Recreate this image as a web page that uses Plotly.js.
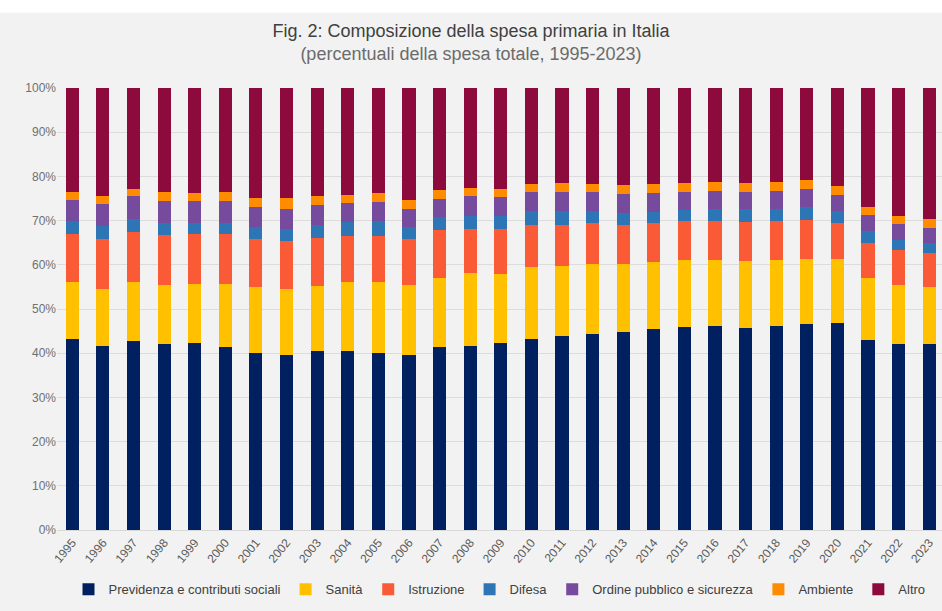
<!DOCTYPE html>
<html>
<head>
<meta charset="utf-8">
<script src="https://cdn.plot.ly/plotly-3.0.1.min.js"></script>
<style>
  html, body { margin: 0; padding: 0; background: #ffffff; }
  #chart { width: 942px; height: 611px; }
</style>
</head>
<body>
<div id="chart"></div>
<script>
var anni = ['1995','1996','1997','1998','1999','2000','2001','2002','2003','2004',
            '2005','2006','2007','2008','2009','2010','2011','2012','2013','2014',
            '2015','2016','2017','2018','2019','2020','2021','2022','2023'];

// quote in % della spesa primaria totale
var previdenza = [43.3,41.7,42.8,42.1,42.3,41.5,40.0,39.5,40.5,40.6,
                  40.1,39.7,41.4,41.7,42.3,43.2,43.9,44.4,44.9,45.4,
                  46.0,46.2,45.7,46.2,46.6,46.9,42.9,42.1,42.0];
var sanita     = [12.7,12.8,13.3,13.3,13.4,14.2,14.9,15.0,14.7,15.5,
                  16.0,15.8,15.6,16.4,15.7,16.3,15.9,15.8,15.3,15.3,
                  15.1,14.9,15.1,14.9,14.8,14.5,14.2,13.3,12.9];
var istruzione = [10.9,11.3,11.4,11.3,11.2,11.2,10.9,10.9,10.9,10.5,
                  10.5,10.3,10.8,10.0,10.0, 9.6, 9.3, 9.2, 8.9, 8.7,
                   8.7, 8.7, 8.8, 8.9, 8.8, 8.0, 7.9, 8.0, 7.7];
var difesa     = [ 3.0, 3.0, 2.9, 2.8, 2.6, 2.6, 2.7, 2.7, 2.8, 3.1,
                   3.3, 2.7, 3.0, 3.0, 3.1, 3.1, 3.1, 2.7, 2.6, 2.6,
                   2.6, 2.9, 3.0, 2.6, 2.9, 2.7, 2.6, 2.3, 2.4];
var ordine     = [ 4.7, 4.9, 5.1, 4.9, 4.9, 4.9, 4.5, 4.6, 4.7, 4.3,
                   4.4, 4.2, 4.2, 4.4, 4.2, 4.2, 4.3, 4.3, 4.3, 4.3,
                   4.1, 4.0, 3.9, 4.1, 4.1, 3.8, 3.6, 3.6, 3.3];
var ambiente   = [ 1.8, 1.8, 1.6, 2.1, 1.9, 2.1, 2.1, 2.4, 2.0, 1.9,
                   1.9, 1.9, 2.0, 1.8, 1.8, 1.9, 2.1, 1.8, 2.0, 1.9,
                   2.0, 2.1, 2.1, 2.1, 2.0, 2.0, 1.8, 1.7, 2.0];
var altro      = [23.6,24.5,22.9,23.5,23.7,23.5,24.9,24.9,24.4,24.1,
                  23.8,25.4,23.0,22.7,22.9,21.7,21.4,21.8,22.0,21.8,
                  21.5,21.2,21.4,21.2,20.8,22.1,27.0,29.0,29.7];

var serie = [
  {nome: 'Previdenza e contributi sociali', valori: previdenza, colore: '#002060'},
  {nome: 'Sanità', valori: sanita, colore: '#FFC000'},
  {nome: 'Istruzione', valori: istruzione, colore: '#FA5A35'},
  {nome: 'Difesa', valori: difesa, colore: '#2E75B6'},
  {nome: 'Ordine pubblico e sicurezza', valori: ordine, colore: '#764A9C'},
  {nome: 'Ambiente', valori: ambiente, colore: '#FF8C00'},
  {nome: 'Altro', valori: altro, colore: '#8C0A3C'}
];

var data = serie.map(function(s){
  return {
    type: 'bar',
    name: s.nome,
    x: anni,
    y: s.valori,
    marker: {color: s.colore, line: {width: 0}},
    hoverinfo: 'name+y'
  };
});

var fontTesto = 'Liberation Sans, Arial, sans-serif';

var layout = {
  width: 942,
  height: 611,
  paper_bgcolor: '#ffffff',
  plot_bgcolor: '#fafafa',
  barmode: 'stack',
  bargap: 0.57,
  margin: {l: 57, r: 0, t: 88, b: 81, autoexpand: false},
  // riquadro grigio dietro al grafico (striscia bianca in alto)
  shapes: [{
    type: 'rect', layer: 'below',
    xref: 'paper', yref: 'paper',
    x0: -0.07, x1: 1.01, y0: -0.19, y1: 1.17,
    fillcolor: '#f2f2f2', line: {width: 0}
  }],
  title: {
    text: 'Fig. 2: Composizione della spesa primaria in Italia<br><span style="font-size:18px;color:#6b6b6b">(percentuali della spesa totale, 1995-2023)</span>',
    font: {family: fontTesto, size: 18, color: '#404040'},
    x: 0.5, xanchor: 'center',
    y: 0.94, yanchor: 'top'
  },
  xaxis: {
    type: 'category',
    range: [-0.5, 28.42],
    automargin: false,
    tickangle: -50,
    tickfont: {family: fontTesto, size: 12, color: '#595959'},
    showgrid: false,
    showline: true,
    linecolor: '#d9d9d9',
    ticks: ''
  },
  yaxis: {
    range: [0, 100],
    dtick: 10,
    automargin: false,
    ticksuffix: '%',
    tickfont: {family: fontTesto, size: 12, color: '#707070'},
    gridcolor: '#dcdcdc',
    gridwidth: 1,
    zeroline: false,
    ticks: ''
  },
  legend: {
    orientation: 'h',
    x: 0.5, xanchor: 'center',
    y: -0.1, yanchor: 'top',
    font: {family: fontTesto, size: 13, color: '#404040'},
    traceorder: 'normal',
    itemwidth: 30,
    bgcolor: 'rgba(0,0,0,0)'
  }
};

var config = {
  displayModeBar: false,
  displaylogo: false
};

Plotly.newPlot('chart', data, layout, config);
</script>
</body>
</html>
